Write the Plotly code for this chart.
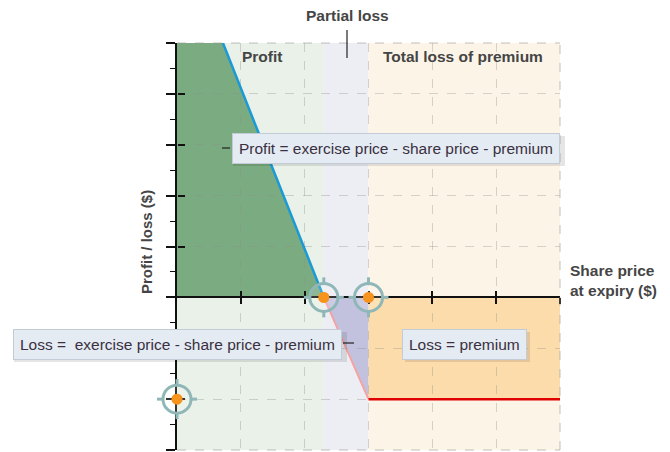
import plotly.graph_objects as go

# ---- data (axis units = grid steps) ----
x_range = [0, 6]
y_range = [-6, 10]
strike = 3.0          # exercise price (x)
premium = 4.0         # premium (y)
breakeven = 2.30      # x where profit = 0
profit_line_x = [0.72, 2.30]
profit_line_y = [10, 0]
partial_line_x = [2.30, 3.0]
partial_line_y = [0, -4]
loss_line_x = [3.0, 6.0]
loss_line_y = [-4, -4]
key_points_x = [2.30, 3.0, 0.0]
key_points_y = [0, 0, -4]
x_tickvals = [1, 2, 3, 4, 5, 6]

FONT = "Liberation Sans, Arial, sans-serif"
TXT = "#454545"
FS = 15.5

# plot area in (window) pixels; page body has an 8px margin
OFF = 8
L, R, T, B = 177, 560, 43, 450
W, H = R - L, B - T

def px(xp):
    return (xp - L) / W

def py(yp):
    return (B - yp) / H

def dx(v):
    return (v - x_range[0]) / (x_range[1] - x_range[0])

def dy(v):
    return (v - y_range[0]) / (y_range[1] - y_range[0])

fig = go.Figure()

shapes = []
# background regions
shapes.append(dict(type="rect", xref="x", yref="paper", x0=x_range[0], x1=breakeven, y0=0, y1=1,
                   fillcolor="#e9f1e8", line_width=0, layer="below"))
shapes.append(dict(type="rect", xref="x", yref="paper", x0=breakeven, x1=strike, y0=0, y1=1,
                   fillcolor="#ededf4", line_width=0, layer="below"))
shapes.append(dict(type="rect", xref="x", yref="paper", x0=strike, x1=x_range[1], y0=0, y1=1,
                   fillcolor="#fdf4e8", line_width=0, layer="below"))
# profit area
path_profit = (f"M {x_range[0]},{profit_line_y[0]} L {profit_line_x[0]},{profit_line_y[0]} "
               f"L {profit_line_x[1]},{profit_line_y[1]} L {x_range[0]},0 Z")
shapes.append(dict(type="path", xref="x", yref="y", path=path_profit,
                   fillcolor="#7bab80", line_width=0, layer="below"))
# partial loss triangle
path_partial = (f"M {partial_line_x[0]},{partial_line_y[0]} L {partial_line_x[1]},0 "
                f"L {partial_line_x[1]},{partial_line_y[1]} Z")
shapes.append(dict(type="path", xref="x", yref="y", path=path_partial,
                   fillcolor="#c2c2de", line_width=0, layer="below"))
# total loss rect
shapes.append(dict(type="rect", xref="x", yref="y", x0=loss_line_x[0], x1=loss_line_x[1],
                   y0=loss_line_y[0], y1=0, fillcolor="#fddcab", line_width=0, layer="below"))
# dashed borders
bd = dict(color="rgba(150,150,150,0.6)", width=1, dash="dash")
shapes.append(dict(type="line", xref="paper", yref="paper", x0=0, x1=1, y0=1, y1=1, line=bd))
shapes.append(dict(type="line", xref="paper", yref="paper", x0=1, x1=1, y0=0, y1=1, line=bd))
shapes.append(dict(type="line", xref="paper", yref="paper", x0=0, x1=1, y0=0, y1=0, line=bd))

# leader lines
ld = dict(color="#222", width=1.2)
shapes.append(dict(type="line", xref="paper", yref="paper", x0=px(222), x1=px(230), y0=py(148), y1=py(148), line=ld))
shapes.append(dict(type="line", xref="paper", yref="paper", x0=px(343), x1=px(354), y0=py(343), y1=py(343), line=ld))
shapes.append(dict(type="line", xref="paper", yref="paper", x0=px(347), x1=px(347), y0=py(30), y1=py(58), line=ld))

# crosshair markers
ring = "#8fb7b7"
for kx, ky in zip(key_points_x, key_points_y):
    ax, ay = dx(kx), dy(ky)
    shapes.append(dict(type="circle", xref="paper", yref="paper", xsizemode="pixel", ysizemode="pixel",
                       xanchor=ax, yanchor=ay, x0=-14, x1=14, y0=-14, y1=14,
                       line=dict(color=ring, width=3), fillcolor="rgba(255,255,255,0.15)"))
    for (a0, a1, b0, b1) in [(0, 0, 14, 20), (0, 0, -14, -20), (14, 20, 0, 0), (-14, -20, 0, 0)]:
        shapes.append(dict(type="line", xref="paper", yref="paper", xsizemode="pixel", ysizemode="pixel",
                           xanchor=ax, yanchor=ay, x0=a0, x1=a1, y0=b0, y1=b1,
                           line=dict(color=ring, width=3)))
    # orange centre dot on top of axes
    shapes.append(dict(type="circle", xref="paper", yref="paper", xsizemode="pixel", ysizemode="pixel",
                       xanchor=ax, yanchor=ay, x0=-5.5, x1=5.5, y0=-5.5, y1=5.5,
                       line_width=0, fillcolor="#f7941d"))

# lines
fig.add_trace(go.Scatter(x=profit_line_x, y=profit_line_y, mode="lines",
                         line=dict(color="#1a9ad6", width=2.5), hoverinfo="skip", showlegend=False))
fig.add_trace(go.Scatter(x=partial_line_x, y=partial_line_y, mode="lines",
                         line=dict(color="#f4a3a3", width=2), hoverinfo="skip", showlegend=False))
fig.add_trace(go.Scatter(x=loss_line_x, y=loss_line_y, mode="lines",
                         line=dict(color="#e00000", width=2.5), hoverinfo="skip", showlegend=False))
fig.add_trace(go.Scatter(x=key_points_x, y=key_points_y, mode="markers", cliponaxis=False,
                         marker=dict(color="#f7941d", size=11, line_width=0),
                         hoverinfo="skip", showlegend=False))
# dummy trace to keep overlay axes alive
fig.add_trace(go.Scatter(x=[1], y=[1], xaxis="x2", yaxis="y2", mode="markers",
                         marker=dict(opacity=0), hoverinfo="skip", showlegend=False))

anns = []
def box(text, xp, yp, x0, x1, y0, y1):
    # soft shadow behind the label box (pixel extents of the reference box)
    shapes.append(dict(type="rect", xref="paper", yref="paper",
                       x0=px(x0 + 3), x1=px(x1 + 3), y0=py(y1 + 3), y1=py(y0 + 3),
                       fillcolor="rgba(0,0,0,0.10)", line_width=0))
    anns.append(dict(text=text, xref="paper", yref="paper", x=px(xp), y=py(yp), xanchor="center",
                     yanchor="middle", showarrow=False,
                     font=dict(family=FONT, size=FS, color="#3a3040"),
                     bgcolor="#e5ebf3", borderpad=6, borderwidth=1, bordercolor="#c3cbd6"))

box("Profit = exercise price - share price - premium", 396, 148, 230, 562, 133, 163)
box("Loss =  exercise price - share price - premium", 177.5, 344, 11, 344, 329, 359)
box("Loss = premium", 464.5, 344, 402, 527, 329, 359)

def lab(text, xp, yp, xanchor="center", size=FS, angle=0, align="center"):
    anns.append(dict(text=text, xref="paper", yref="paper", x=px(xp), y=py(yp), xanchor=xanchor,
                     yanchor="middle", showarrow=False, textangle=angle, align=align,
                     font=dict(family=FONT, size=size, color=TXT)))

lab("<b>Partial loss</b>", 347, 16)
lab("<b>Profit</b>", 262, 57)
lab("<b>Total loss of premium</b>", 463, 57)
lab("<b>Share price<br>at expiry ($)</b>", 568, 280, xanchor="left", align="left")
lab("<b>Profit / loss ($)</b>", 146, 242, angle=-90, size=15)

x_pos = dy(0)
grid = "rgba(140,140,140,0.35)"
fig.update_layout(
    width=670 - OFF, height=452 - OFF,
    margin=dict(l=L - OFF, r=670 - R, t=T - OFF, b=452 - B),
    paper_bgcolor="white", plot_bgcolor="white",
    shapes=shapes, annotations=anns,
    xaxis=dict(range=x_range, tickvals=x_tickvals, showticklabels=False,
               showgrid=True, gridcolor=grid, griddash="dash", gridwidth=1,
               ticks="outside", ticklen=6, tickwidth=1.5, tickcolor="#111",
               showline=True, linecolor="#111", linewidth=1.5,
               anchor="free", position=x_pos, zeroline=False, fixedrange=True),
    xaxis2=dict(range=x_range, tickvals=x_tickvals, showticklabels=False, overlaying="x",
                showgrid=False, ticks="inside", ticklen=6, tickwidth=1.5, tickcolor="#111",
                showline=False, anchor="free", position=x_pos, zeroline=False),
    yaxis=dict(range=y_range, tick0=0, dtick=2, showticklabels=False,
               showgrid=True, gridcolor=grid, griddash="dash", gridwidth=1,
               ticks="outside", ticklen=9, tickwidth=1.5, tickcolor="#111",
               minor=dict(dtick=1, tick0=0, ticks="outside", ticklen=5, tickwidth=1.2,
                          tickcolor="#111", showgrid=False),
               showline=True, linecolor="#111", linewidth=1.5, zeroline=False, fixedrange=True),
    yaxis2=dict(range=y_range, tick0=0, dtick=2, showticklabels=False, overlaying="y",
                showgrid=False, ticks="inside", ticklen=7, tickwidth=1.5, tickcolor="#111",
                showline=False, anchor="free", position=0, zeroline=False),
)

fig.write_html("out.html")
